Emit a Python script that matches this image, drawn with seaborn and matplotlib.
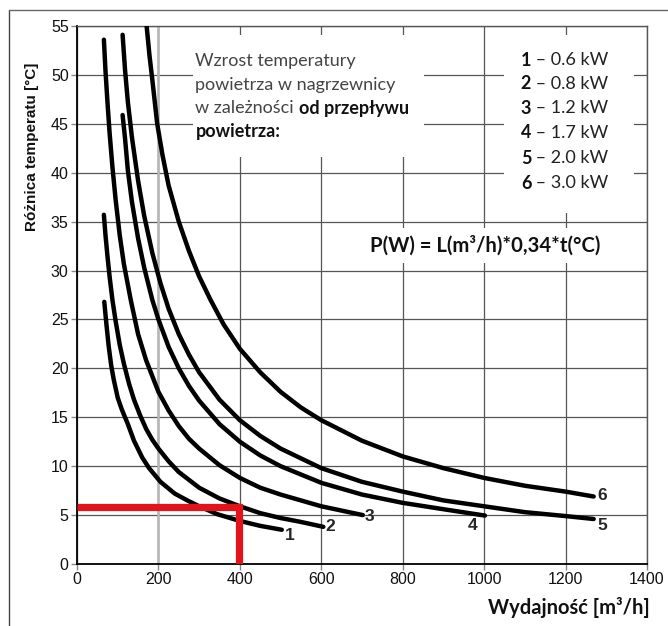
import matplotlib
matplotlib.use("Agg")
import matplotlib.pyplot as plt
import seaborn as sns
import pandas as pd
from matplotlib.patches import Rectangle
from matplotlib.lines import Line2D

# ---------------- data ----------------
curve_ids = ["1", "2", "3", "4", "5", "6"]
powers = ["0.6 kW", "0.8 kW", "1.2 kW", "1.7 kW", "2.0 kW", "3.0 kW"]

L1 = [67, 72, 78, 84, 90, 100, 110, 124, 140, 160, 177, 205, 240, 271, 300, 344, 400, 450, 503]
t1 = [26.8, 24.6, 22.2, 20.3, 18.9, 17.0, 15.8, 14.4, 12.6, 10.9, 9.8, 8.4, 7.2, 6.5, 5.9, 5.1, 4.4, 3.9, 3.5]

L2 = [66, 70, 75, 80, 87, 95, 105, 115, 128, 140, 155, 170, 185, 200, 225, 250, 275, 300, 350, 400, 450, 500, 550, 605]
t2 = [35.7, 33.6, 31.4, 29.4, 27.0, 24.8, 22.4, 20.5, 18.4, 16.8, 15.2, 13.8, 12.7, 11.8, 10.5, 9.4, 8.6, 7.8, 6.7, 5.9, 5.2, 4.7, 4.3, 3.8]

L3 = [66, 70, 75, 80, 87, 95, 105, 115, 132, 150, 170, 200, 225, 250, 275, 300, 350, 400, 450, 500, 600, 702]
t3 = [53.6, 50.4, 47.1, 44.1, 40.6, 37.2, 33.6, 30.7, 27.0, 23.5, 20.8, 17.6, 15.7, 14.1, 12.8, 11.8, 10.1, 8.8, 7.8, 7.1, 5.9, 5.0]

L4 = [112, 118, 125, 135, 150, 165, 185, 200, 225, 250, 275, 300, 350, 400, 450, 500, 600, 700, 800, 900, 1002]
t4 = [45.9, 43.5, 40.2, 37.0, 33.3, 30.3, 27.0, 25.0, 22.2, 20.0, 18.2, 16.7, 14.3, 12.5, 11.1, 10.0, 8.3, 7.1, 6.25, 5.6, 4.95]

L5 = [112, 118, 125, 135, 150, 165, 185, 205, 225, 250, 275, 300, 350, 400, 450, 500, 600, 700, 800, 900, 1000, 1100, 1200, 1269]
t5 = [54.1, 50.5, 47.2, 43.6, 39.2, 35.6, 31.8, 28.7, 26.1, 23.5, 21.4, 19.6, 16.8, 14.7, 13.1, 11.8, 9.8, 8.4, 7.4, 6.5, 5.9, 5.3, 4.9, 4.6]

L6 = [171, 178, 185, 197, 210, 225, 250, 275, 300, 328, 360, 400, 450, 500, 550, 600, 700, 800, 900, 1000, 1100, 1200, 1269]
t6 = [55.0, 52.0, 49.5, 45.0, 41.8, 38.7, 35.0, 32.0, 29.4, 27.0, 24.5, 22.0, 19.6, 17.6, 16.0, 14.7, 12.6, 11.0, 9.8, 8.8, 8.0, 7.4, 6.9]

# example reading (red)
example_L = [0, 397, 397]
example_t = [5.85, 5.85, 0]

x_ticks = [0, 200, 400, 600, 800, 1000, 1200, 1400]
y_ticks = [0, 5, 10, 15, 20, 25, 30, 35, 40, 45, 50, 55]

description = ["Wzrost temperatury", "powietrza w nagrzewnicy", "w zależności ", "od przepływu", "powietrza:"]
formula = "P(W) = L(m³/h)*0,34*t(°C)"
xlabel = "Wydajność [m³/h]"
ylabel = "Różnica temperatu [°C]"

# ---------------- build tables ----------------
Ls = [L1, L2, L3, L4, L5, L6]
ts = [t1, t2, t3, t4, t5, t6]
rows = []
for cid, Lc, tc in zip(curve_ids, Ls, ts):
    for a, b in zip(Lc, tc):
        rows.append({"curve": cid, "L": a, "t": b})
df = pd.DataFrame(rows)
df_red = pd.DataFrame({"L": example_L, "t": example_t, "u": ["r"] * len(example_L)})

sns.set_theme(style="white")
plt.rcParams["font.family"] = ["Liberation Sans", "DejaVu Sans"]

fig = plt.figure(figsize=(6.68, 6.26), dpi=100)
ax = fig.add_axes([77 / 668, (626 - 564) / 626, (647 - 77) / 668, (564 - 26) / 626])

ax.set_xlim(0, 1400)
ax.set_ylim(0, 55)
ax.set_xticks(x_ticks)
ax.set_yticks(y_ticks)
ax.set_axisbelow(True)
ax.grid(True, color="#555555", linewidth=0.9)
ax.axvline(200, color="#b5b5b5", linewidth=1.8, zorder=0.6)

# white boxes behind texts
for (x0, x1, y0, y1) in [(284, 853, 41.6, 54.1), (1049, 1367, 35.9, 54.1), (711, 1298, 30.8, 34.3)]:
    ax.add_patch(Rectangle((x0, y0), x1 - x0, y1 - y0, facecolor="white", edgecolor="none", zorder=1))

sns.lineplot(data=df, x="L", y="t", hue="curve", units="curve", estimator=None, sort=False,
             palette=["black"] * 6, linewidth=3.2, legend=False, ax=ax, zorder=3)
for line in ax.get_lines():
    line.set_solid_capstyle("round")
    line.set_solid_joinstyle("round")

sns.lineplot(data=df_red, x="L", y="t", units="u", estimator=None, sort=False, color="#e3131b",
             linewidth=5.2, ax=ax, zorder=4, legend=False)
ax.get_lines()[-1].set_solid_capstyle("butt")
ax.get_lines()[-1].set_solid_joinstyle("miter")

# curve number labels
label_pos = [(523, 2.9), (623, 3.8), (719, 4.9), (971, 3.9), (1289, 3.9), (1289, 7.0)]
for cid, (lx, ly) in zip(curve_ids, label_pos):
    ax.text(lx, ly, cid, fontsize=12.5, fontweight="bold", ha="center", va="center",
            family=["Liberation Sans"], zorder=5)

# spines
for side in ["left", "bottom"]:
    ax.spines[side].set_color("black")
    ax.spines[side].set_linewidth(1.3)
for side in ["top", "right"]:
    ax.spines[side].set_color("#555555")
    ax.spines[side].set_linewidth(1.0)

ax.tick_params(axis="both", which="major", labelsize=11.5, length=4, width=1, color="#888888",
               pad=2, bottom=True, left=True, labelcolor="#111111")
ax.set_xlabel("")
ax.set_ylabel("")

ff = ["Lato", "DejaVu Sans"]

# axis titles
fig.text(650 / 668, 1 - 607 / 626, xlabel, ha="right", va="center", fontsize=14.5,
         fontweight="bold", family=ff, color="#111111")
fig.text(32 / 668, 1 - 147 / 626, ylabel, ha="center", va="center", rotation=90, fontsize=11.0,
         fontweight="bold", family=["Liberation Sans", "DejaVu Sans"], color="#111111")

# description text
fs = 13
xd = 291
ax.text(xd, 51.4, description[0], fontsize=fs, family=ff, color="#444444", va="center", ha="left", zorder=5)
ax.text(xd, 49.0, description[1], fontsize=fs, family=ff, color="#444444", va="center", ha="left", zorder=5)
tr = ax.text(xd, 46.6, description[2], fontsize=fs, family=ff, color="#444444", va="center", ha="left", zorder=5)
ax.annotate(description[3], xy=(1, 0.5), xycoords=tr, fontsize=fs, family=ff, fontweight="bold",
            color="#111111", va="center", ha="left", zorder=5)
ax.text(xd, 44.2, description[4], fontsize=fs, family=ff, fontweight="bold", color="#111111",
        va="center", ha="left", zorder=5)

# legend list
leg_y = [51.5, 49.1, 46.6, 44.1, 41.5, 38.9]
for cid, pw, yy in zip(curve_ids, powers, leg_y):
    tn = ax.text(1090, yy, cid, fontsize=fs, family=ff, fontweight="bold", color="#111111",
                 va="center", ha="left", zorder=5)
    ax.annotate(" – " + pw, xy=(1, 0.5), xycoords=tn, fontsize=fs, family=ff, color="#222222",
                va="center", ha="left", zorder=5)

# formula
ax.text(1002, 32.6, formula, fontsize=14.6, family=ff, fontweight="bold", color="#111111",
        ha="center", va="center", zorder=5)

# outer frame lines
fig.add_artist(Line2D([9 / 668, 9 / 668], [0, 1 - 10 / 626], transform=fig.transFigure,
                      color="#444444", linewidth=1.0))
fig.add_artist(Line2D([9 / 668, 1], [1 - 10 / 626, 1 - 10 / 626], transform=fig.transFigure,
                      color="#666666", linewidth=1.0))

fig.savefig("out.png", dpi=100, facecolor="white")
